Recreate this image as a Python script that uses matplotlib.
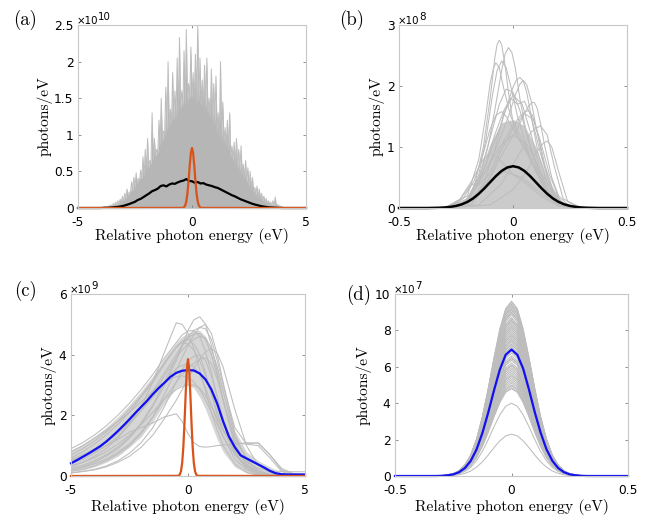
import numpy as np
import matplotlib
matplotlib.use("Agg")
import matplotlib.pyplot as plt

plt.rcParams.update({
    "font.family": "DejaVu Sans",
    "font.size": 8.8,
    "axes.unicode_minus": False,
})

# ---------------- data ----------------
# (a) SASE spectra: dense spiky envelope (x1e10), mean and seeded pulse
a_env_x = np.round(np.arange(-4.0, 4.0001, 0.05), 3)
a_env_y = [0.00, 0.01, 0.00, 0.02, 0.01, 0.02, 0.01, 0.03, 0.02, 0.04,
           0.03, 0.06, 0.04, 0.08, 0.05, 0.10, 0.06, 0.12, 0.08, 0.16,
           0.10, 0.20, 0.13, 0.26, 0.16, 0.22, 0.20, 0.36, 0.24, 0.42,
           0.28, 0.48, 0.33, 0.40, 0.38, 0.52, 0.40, 0.70, 0.45, 0.80,
           0.50, 0.95, 0.55, 0.65, 0.60, 1.30, 0.65, 0.95, 0.70, 0.80,
           0.75, 1.20, 0.85, 1.50, 0.90, 1.05, 1.00, 1.65, 1.05, 2.00,
           1.10, 1.35, 1.15, 1.85, 1.20, 1.60, 1.25, 2.05, 1.30, 2.33,
           1.35, 1.60, 1.40, 2.15, 1.40, 2.44, 1.45, 1.70, 1.50, 2.20,
           1.50, 1.85, 1.50, 2.10, 1.45, 2.49, 1.45, 2.05, 1.40, 1.75,
           1.40, 1.95, 1.35, 2.05, 1.30, 1.50, 1.25, 1.90, 1.20, 1.70,
           1.15, 1.80, 1.05, 1.30, 1.00, 2.00, 0.95, 1.45, 0.90, 1.10,
           0.85, 1.20, 0.80, 1.30, 0.70, 0.85, 0.65, 0.90, 0.60, 0.95,
           0.55, 0.80, 0.50, 0.85, 0.45, 0.60, 0.40, 0.65, 0.35, 0.55,
           0.30, 0.50, 0.25, 0.42, 0.22, 0.28, 0.18, 0.30, 0.15, 0.26,
           0.12, 0.20, 0.10, 0.16, 0.08, 0.13, 0.06, 0.10, 0.05, 0.08,
           0.04, 0.10, 0.03, 0.15, 0.02, 0.05, 0.02, 0.03, 0.01, 0.02,
           0.00]
a_mean_x = np.round(np.arange(-4.0, 4.0001, 0.125), 4)
a_mean_y = [0.000, 0.002, 0.003, 0.005, 0.008, 0.012, 0.015, 0.022,
            0.030, 0.042, 0.055, 0.070, 0.085, 0.110, 0.125, 0.150,
            0.175, 0.200, 0.230, 0.245, 0.265, 0.300, 0.310, 0.295,
            0.320, 0.335, 0.330, 0.350, 0.365, 0.375, 0.395, 0.370,
            0.365, 0.345, 0.355, 0.335, 0.340, 0.320, 0.310, 0.300,
            0.285, 0.275, 0.255, 0.235, 0.215, 0.195, 0.175, 0.160,
            0.140, 0.120, 0.105, 0.090, 0.075, 0.060, 0.048, 0.038,
            0.028, 0.020, 0.014, 0.009, 0.006, 0.004, 0.002, 0.001,
            0.000]
pulse_x = [-5.0, -0.45, -0.4, -0.35, -0.3, -0.25, -0.2, -0.15, -0.1, -0.05, 0.0,
           0.05, 0.1, 0.15, 0.2, 0.25, 0.3, 0.35, 0.4, 0.45, 5.0]
a_pulse_y = [0, 0.001, 0.003, 0.011, 0.034, 0.090, 0.200, 0.371, 0.576, 0.751, 0.82,
             0.751, 0.576, 0.371, 0.200, 0.090, 0.034, 0.011, 0.003, 0.001, 0]

# (b) spectra after filtering (x1e8)
b_band_x = [-0.3, -0.25, -0.2, -0.15, -0.1, -0.05, 0, 0.05, 0.1, 0.15, 0.2, 0.25, 0.3]
b_band_y = [0, 0.03, 0.18, 0.55, 1.05, 1.4, 1.45, 1.35, 1.0, 0.5, 0.12, 0.02, 0]
b_gray = [
    ([-0.30, -0.22, -0.17, -0.13, -0.10, -0.08, -0.07, -0.06, -0.05, -0.035, -0.02, 0.0, 0.03, 0.06, 0.1, 0.14, 0.18, 0.22, 0.30],
     [0, 0.05, 0.35, 1.0, 1.8, 2.45, 2.68, 2.75, 2.68, 2.35, 1.9, 1.4, 1.1, 0.9, 0.6, 0.3, 0.1, 0.02, 0]),
    ([-0.30, -0.2, -0.15, -0.11, -0.08, -0.05, -0.035, -0.02, -0.005, 0.01, 0.03, 0.06, 0.1, 0.15, 0.2, 0.3],
     [0, 0.1, 0.45, 1.0, 1.6, 2.25, 2.52, 2.63, 2.55, 2.3, 1.8, 1.2, 0.7, 0.3, 0.06, 0]),
    ([-0.3, -0.2, -0.15, -0.12, -0.09, -0.07, -0.05, -0.03, -0.01, 0.02, 0.06, 0.1, 0.15, 0.2, 0.3],
     [0, 0.12, 0.55, 1.1, 1.85, 2.25, 2.41, 2.3, 2.0, 1.5, 1.0, 0.6, 0.25, 0.05, 0]),
    ([-0.3, -0.2, -0.15, -0.12, -0.1, -0.085, -0.075, -0.06, -0.04, -0.01, 0.03, 0.08, 0.13, 0.2, 0.3],
     [0, 0.2, 0.8, 1.5, 2.05, 2.3, 2.38, 2.3, 1.95, 1.5, 1.2, 0.8, 0.4, 0.08, 0]),
    ([-0.3, -0.22, -0.15, -0.1, -0.05, -0.02, 0.0, 0.015, 0.03, 0.045, 0.06, 0.08, 0.11, 0.15, 0.2, 0.3],
     [0, 0.05, 0.4, 0.9, 1.4, 1.75, 1.98, 2.1, 2.14, 2.08, 1.9, 1.5, 0.9, 0.4, 0.08, 0]),
    ([-0.3, -0.2, -0.12, -0.06, -0.02, 0.01, 0.03, 0.045, 0.06, 0.08, 0.1, 0.13, 0.17, 0.22, 0.3],
     [0, 0.1, 0.6, 1.1, 1.5, 1.85, 2.03, 2.09, 2.02, 1.75, 1.35, 0.8, 0.3, 0.05, 0]),
    ([-0.3, -0.2, -0.1, -0.03, 0.02, 0.05, 0.07, 0.085, 0.093, 0.105, 0.12, 0.14, 0.17, 0.2, 0.25, 0.3],
     [0, 0.05, 0.5, 1.0, 1.3, 1.55, 1.68, 1.73, 1.73, 1.65, 1.4, 1.0, 0.5, 0.2, 0.02, 0]),
    ([-0.3, -0.18, -0.1, -0.04, 0.0, 0.03, 0.05, 0.067, 0.085, 0.11, 0.14, 0.18, 0.23, 0.3],
     [0, 0.1, 0.6, 1.1, 1.35, 1.5, 1.57, 1.6, 1.52, 1.2, 0.7, 0.25, 0.03, 0]),
    ([-0.3, -0.22, -0.17, -0.13, -0.1, -0.075, -0.05, -0.03, 0.0, 0.04, 0.08, 0.12, 0.17, 0.22, 0.3],
     [0, 0.15, 0.45, 0.9, 1.3, 1.52, 1.58, 1.5, 1.3, 1.05, 0.8, 0.5, 0.2, 0.04, 0]),
    ([-0.3, -0.23, -0.19, -0.167, -0.15, -0.12, -0.08, -0.04, 0.0, 0.04, 0.08, 0.12, 0.16, 0.21, 0.3],
     [0, 0.15, 0.36, 0.4, 0.38, 0.5, 0.95, 1.55, 1.85, 1.7, 1.2, 0.6, 0.2, 0.03, 0]),
    ([-0.3, -0.2, -0.12, -0.06, 0.0, 0.06, 0.12, 0.18, 0.24, 0.3],
     [0, 0.15, 0.6, 1.0, 1.2, 1.05, 0.6, 0.2, 0.03, 0]),
    ([-0.3, -0.15, -0.05, 0.03, 0.08, 0.12, 0.15, 0.18, 0.22, 0.3],
     [0, 0.05, 0.4, 0.9, 1.25, 1.35, 1.2, 0.7, 0.15, 0]),
    ([-0.3, -0.24, -0.18, -0.13, -0.1, -0.06, 0.0, 0.06, 0.12, 0.2, 0.3],
     [0, 0.1, 0.45, 0.8, 0.9, 0.8, 0.55, 0.4, 0.2, 0.03, 0]),
    ([-0.3, -0.2, -0.13, -0.08, -0.04, -0.01, 0.02, 0.05, 0.08, 0.12, 0.16, 0.22, 0.3],
     [0, 0.1, 0.6, 1.2, 1.6, 1.8, 1.7, 1.75, 1.5, 0.9, 0.4, 0.05, 0]),
    ([-0.3, -0.1, 0.0, 0.06, 0.1, 0.13, 0.15, 0.17, 0.2, 0.24, 0.3],
     [0, 0.05, 0.3, 0.6, 0.9, 1.05, 1.1, 1.0, 0.6, 0.1, 0]),
    ([-0.3, -0.2, -0.12, -0.04, 0.04, 0.12, 0.2, 0.3],
     [0, 0.1, 0.4, 0.6, 0.5, 0.25, 0.05, 0]),
    ([-0.3, -0.21, -0.15, -0.1, -0.06, -0.03, 0.0, 0.03, 0.07, 0.12, 0.17, 0.23, 0.3],
     [0, 0.08, 0.5, 1.15, 1.7, 1.95, 1.9, 1.6, 1.1, 0.55, 0.18, 0.02, 0]),
    ([-0.3, -0.18, -0.11, -0.05, 0.0, 0.05, 0.09, 0.12, 0.16, 0.21, 0.3],
     [0, 0.06, 0.45, 0.95, 1.3, 1.55, 1.45, 1.1, 0.55, 0.08, 0]),
]
fine_x = np.round(np.arange(-0.5, 0.5001, 0.025), 4)
b_mean_y = [0, 0, 0, 0, 0, 0, 0.002, 0.004, 0.009, 0.018, 0.034, 0.060, 0.100, 0.157,
            0.233, 0.324, 0.424, 0.523, 0.608, 0.665, 0.685, 0.665, 0.608, 0.523, 0.424,
            0.324, 0.233, 0.157, 0.100, 0.060, 0.034, 0.018, 0.009, 0.004, 0.002,
            0, 0, 0, 0, 0, 0]

# (c) spectra (x1e9)
c_x = [-5, -4.5, -4, -3.5, -3, -2.5, -2, -1.5, -1, -0.5, -0.25, 0, 0.25, 0.5, 0.75,
       1, 1.25, 1.5, 2, 2.5, 3, 3.5, 4, 4.5, 5]
c_band_hi = [0.85, 1.05, 1.3, 1.6, 1.95, 2.35, 2.8, 3.3, 3.9, 4.4, 4.6, 4.7, 4.8, 4.8, 4.6,
             4.2, 3.6, 2.9, 1.5, 0.8, 0.5, 0.3, 0.1, 0.05, 0.05]
c_band_lo = [0.15, 0.2, 0.3, 0.45, 0.65, 0.95, 1.3, 1.8, 2.4, 2.9, 3.0, 3.0, 2.9, 2.6, 2.2,
             1.7, 1.2, 0.8, 0.3, 0.1, 0.02, 0, 0, 0, 0]
c_gray = [
    [0.3, 0.45, 0.65, 0.9, 1.25, 1.7, 2.3, 3.1, 4.1, 5.05, 5.0, 4.7, 4.2, 3.5, 2.8, 2.1, 1.5, 1.0, 0.4, 0.12, 0.03, 0, 0, 0, 0],
    [0.2, 0.3, 0.45, 0.65, 0.9, 1.25, 1.7, 2.3, 3.0, 3.8, 4.3, 4.8, 5.15, 5.25, 5.0, 4.3, 3.4, 2.5, 1.0, 0.35, 0.1, 0.02, 0, 0, 0],
    [0.15, 0.22, 0.33, 0.5, 0.72, 1.0, 1.4, 1.95, 2.7, 3.5, 3.9, 4.3, 4.65, 4.9, 5.0, 4.7, 4.0, 3.1, 1.4, 0.5, 0.15, 0.03, 0, 0, 0],
    [0.9, 1.1, 1.35, 1.65, 2.0, 2.4, 2.85, 3.35, 3.9, 4.4, 4.65, 4.78, 4.8, 4.6, 4.1, 3.4, 2.6, 1.8, 0.7, 0.25, 0.08, 0.02, 0, 0, 0],
    [0.6, 0.8, 1.05, 1.35, 1.7, 2.1, 2.6, 3.1, 3.7, 4.25, 4.45, 4.5, 4.35, 4.0, 3.4, 2.7, 2.0, 1.5, 1.1, 1.05, 1.1, 0.7, 0.25, 0.08, 0.05],
    [0.5, 0.65, 0.8, 1.0, 1.2, 1.45, 1.6, 1.75, 1.95, 2.05, 1.8, 1.4, 1.1, 0.97, 0.95, 0.97, 1.0, 1.02, 1.05, 1.1, 1.08, 0.7, 0.2, 0.05, 0.02],
    [0.1, 0.15, 0.22, 0.33, 0.5, 0.75, 1.1, 1.6, 2.3, 3.1, 3.5, 3.8, 3.95, 4.0, 3.8, 3.3, 2.6, 1.9, 0.8, 0.3, 0.08, 0, 0, 0, 0],
    [0.4, 0.55, 0.75, 1.0, 1.3, 1.7, 2.15, 2.7, 3.3, 3.9, 4.15, 4.35, 4.5, 4.6, 4.55, 4.2, 3.6, 2.8, 1.3, 0.55, 0.2, 0.05, 0.01, 0, 0],
    [0.8, 1.0, 1.25, 1.5, 1.8, 2.1, 2.45, 2.8, 3.1, 3.28, 3.3, 3.25, 3.1, 2.85, 2.5, 2.1, 1.7, 1.3, 0.7, 0.35, 0.15, 0.05, 0.01, 0, 0],
    [0.25, 0.35, 0.5, 0.7, 0.95, 1.3, 1.75, 2.35, 3.1, 3.9, 4.3, 4.6, 4.8, 4.9, 4.85, 4.5, 3.8, 3.0, 1.6, 1.05, 1.0, 0.6, 0.15, 0.02, 0],
    [0.5, 0.65, 0.85, 1.1, 1.4, 1.75, 2.15, 2.6, 3.1, 3.55, 3.65, 3.7, 3.6, 3.35, 2.9, 2.35, 1.8, 1.3, 0.55, 0.2, 0.06, 0.01, 0, 0, 0],
    [0.1, 0.15, 0.2, 0.3, 0.45, 0.65, 0.95, 1.35, 1.9, 2.5, 2.85, 3.2, 3.55, 3.85, 4.1, 4.2, 4.05, 3.6, 2.2, 1.0, 0.35, 0.1, 0.02, 0, 0],
    [0.35, 0.45, 0.6, 0.8, 1.05, 1.35, 1.7, 2.1, 2.55, 2.85, 2.95, 3.0, 3.0, 2.9, 2.65, 2.3, 1.9, 1.5, 0.85, 0.45, 0.25, 0.17, 0.15, 0.14, 0.14],
    [0.7, 0.9, 1.15, 1.45, 1.8, 2.2, 2.65, 3.15, 3.75, 4.25, 4.4, 4.35, 4.15, 3.8, 3.3, 2.7, 2.1, 1.55, 0.75, 0.3, 0.1, 0.02, 0, 0, 0],
    [0.55, 0.7, 0.9, 1.15, 1.45, 1.8, 2.25, 2.8, 3.4, 4.0, 4.3, 4.55, 4.68, 4.7, 4.5, 4.0, 3.3, 2.5, 1.1, 0.4, 0.12, 0.03, 0, 0, 0],
    [0.2, 0.28, 0.4, 0.55, 0.78, 1.05, 1.45, 1.95, 2.55, 3.1, 3.35, 3.55, 3.72, 3.85, 3.9, 3.7, 3.2, 2.5, 1.2, 0.6, 0.4, 0.15, 0.03, 0, 0],
]
c_mean_x = np.round(np.arange(-5.0, 5.0001, 0.25), 3)
c_mean_y = [0.42, 0.52, 0.63, 0.74, 0.86, 0.98, 1.13, 1.30, 1.48, 1.67, 1.87, 2.08, 2.28, 2.48,
            2.70, 2.90, 3.08, 3.27, 3.40, 3.47, 3.49, 3.48, 3.38, 3.18, 2.85, 2.38, 1.80, 1.30,
            0.95, 0.68, 0.58, 0.48, 0.38, 0.28, 0.17, 0.09, 0.06, 0.05, 0.05, 0.05, 0.05]
c_pulse_y = [0, 0.005, 0.014, 0.05, 0.16, 0.42, 0.94, 1.74, 2.70, 3.53, 3.85,
             3.53, 2.70, 1.74, 0.94, 0.42, 0.16, 0.05, 0.014, 0.005, 0]

# (d) spectra (x1e7): common normalised profile and peak heights of each shot
d_shape = [0, 0, 0, 0, 0, 0, 0, 0, 0.002, 0.005, 0.013, 0.030, 0.063, 0.120, 0.211,
           0.339, 0.500, 0.678, 0.841, 0.958, 1.0, 0.958, 0.841, 0.678, 0.500, 0.339,
           0.211, 0.120, 0.063, 0.030, 0.013, 0.005, 0.002, 0, 0, 0, 0, 0, 0, 0, 0]
d_peaks = [9.6, 9.55, 9.45, 9.4, 9.3, 9.25, 9.15, 9.1, 9.0, 8.95, 8.85, 8.7, 8.65, 8.55,
           8.5, 8.4, 8.3, 8.2, 8.15, 8.05, 7.95, 7.85, 7.75, 7.7, 7.6, 7.5, 7.45, 7.35,
           7.25, 7.2, 7.1, 7.0, 6.95, 6.85, 6.75, 6.6, 6.5, 6.45, 6.35, 6.2, 6.1, 6.05,
           5.95, 5.85, 5.75, 5.65, 5.55, 5.5, 5.4, 5.3, 5.2, 5.1, 5.0, 4.95, 4.85, 4.8,
           4.0, 2.3]
d_mean_y = [0, 0, 0, 0, 0, 0, 0, 0, 0.01, 0.04, 0.09, 0.21, 0.44, 0.83, 1.46, 2.36,
            3.48, 4.71, 5.85, 6.66, 6.95, 6.66, 5.90, 4.75, 3.50, 2.38, 1.47, 0.84, 0.44,
            0.21, 0.09, 0.04, 0.01, 0, 0, 0, 0, 0, 0, 0, 0]

# ---------------- styling ----------------
GRAY = "#bdbdbd"
ORANGE = "#d95319"
BLUE = "#1010f0"
SERIF = "cmr10"


def style(ax, xlim, ylim, xticks, xtl, yticks, ytl, expo, ylab_x, xlab_y):
    ax.set_xlim(xlim)
    ax.set_ylim(ylim)
    ax.set_xticks(xticks)
    ax.set_xticklabels(xtl)
    ax.set_yticks(yticks)
    ax.set_yticklabels(ytl)
    for s in ax.spines.values():
        s.set_color("#c8c8c8")
        s.set_linewidth(0.8)
    ax.tick_params(direction="in", length=2.5, width=0.6, color="#808080",
                   top=True, right=True, labelsize=8.8)
    ax.tick_params(axis="x", pad=5.4)
    ax.tick_params(axis="y", pad=3.2)
    ax.set_xlabel("Relative photon energy (eV)", fontfamily=SERIF, fontsize=11.2)
    ax.xaxis.set_label_coords(0.5, xlab_y)
    ax.set_ylabel("photons/eV", fontfamily=SERIF, fontsize=11.2)
    ax.yaxis.set_label_coords(ylab_x, 0.5)
    t1 = ax.annotate("\u00d710", xy=(0, 1), xycoords="axes fraction",
                     xytext=(-0.7, 1.0), textcoords="offset points",
                     ha="left", va="baseline", fontsize=7.4)
    ax.annotate(expo, xy=(1, 1), xycoords=t1, xytext=(-0.4, -3.2),
                textcoords="offset points", ha="left", va="baseline", fontsize=7.4)


W, H = 649, 519
fig = plt.figure(figsize=(W / 100, H / 100), dpi=100)


def box(x0, y0, x1, y1):
    return [x0 / W, 1 - y1 / H, (x1 - x0) / W, (y1 - y0) / H]


axa = fig.add_axes(box(78, 25, 306, 208))
axb = fig.add_axes(box(399, 25, 627, 208))
axc = fig.add_axes(box(71, 294, 305, 476))
axd = fig.add_axes(box(395, 294, 628, 476))

# (a)
axa.fill_between(a_env_x, 0, a_env_y, color="#b6b6b6", lw=0)
axa.plot(a_env_x, a_env_y, color=GRAY, lw=0.7)
axa.plot([-5] + list(a_mean_x) + [5], [0] + a_mean_y + [0], color="black", lw=1.6, clip_on=False)
axa.plot(pulse_x, a_pulse_y, color=ORANGE, lw=1.6, clip_on=False)
style(axa, (-5, 5), (0, 2.5), [-5, 0, 5], ["-5", "0", "5"],
      [0, 0.5, 1, 1.5, 2, 2.5], ["0", "0.5", "1", "1.5", "2", "2.5"], "10", -0.11, -0.108)

# (b)
axb.fill_between(b_band_x, 0, b_band_y, color="#cbcbcb", lw=0)
for xs, ys in b_gray:
    axb.plot(xs, ys, color=GRAY, lw=0.75)
axb.plot(fine_x, b_mean_y, color="black", lw=1.8, clip_on=False)
style(axb, (-0.5, 0.5), (0, 3), [-0.5, 0, 0.5], ["-0.5", "0", "0.5"],
      [0, 1, 2, 3], ["0", "1", "2", "3"], "8", -0.061, -0.108)

# (c)
axc.fill_between(c_x, c_band_lo, c_band_hi, color="#d6d6d6", lw=0)
for ys in c_gray:
    axc.plot(c_x, ys, color=GRAY, lw=0.75)
axc.plot(c_mean_x, c_mean_y, color=BLUE, lw=1.6, clip_on=False)
axc.plot(pulse_x, c_pulse_y, color=ORANGE, lw=1.6, clip_on=False)
style(axc, (-5, 5), (0, 6), [-5, 0, 5], ["-5", "0", "5"],
      [0, 2, 4, 6], ["0", "2", "4", "6"], "9", -0.06, -0.128)
axc.spines["right"].set_color("#c4c4f0")

# (d)
for p in d_peaks:
    axd.plot(fine_x, [p * s for s in d_shape], color=GRAY, lw=0.75)
axd.plot(fine_x, d_mean_y, color=BLUE, lw=1.6, clip_on=False)
style(axd, (-0.5, 0.5), (0, 10), [-0.5, 0, 0.5], ["-0.5", "0", "0.5"],
      [0, 2, 4, 6, 8, 10], ["0", "2", "4", "6", "8", "10"], "7", -0.099, -0.128)

# panel letters
for (px, py), lab in zip([(25, 20), (352, 19.5), (26, 290.5), (359, 294.5)],
                         ["(a)", "(b)", "(c)", "(d)"]):
    fig.text(px / W, 1 - py / H, lab, fontfamily=SERIF, fontsize=13.5, ha="center", va="center")

fig.savefig("out.png", dpi=100)
